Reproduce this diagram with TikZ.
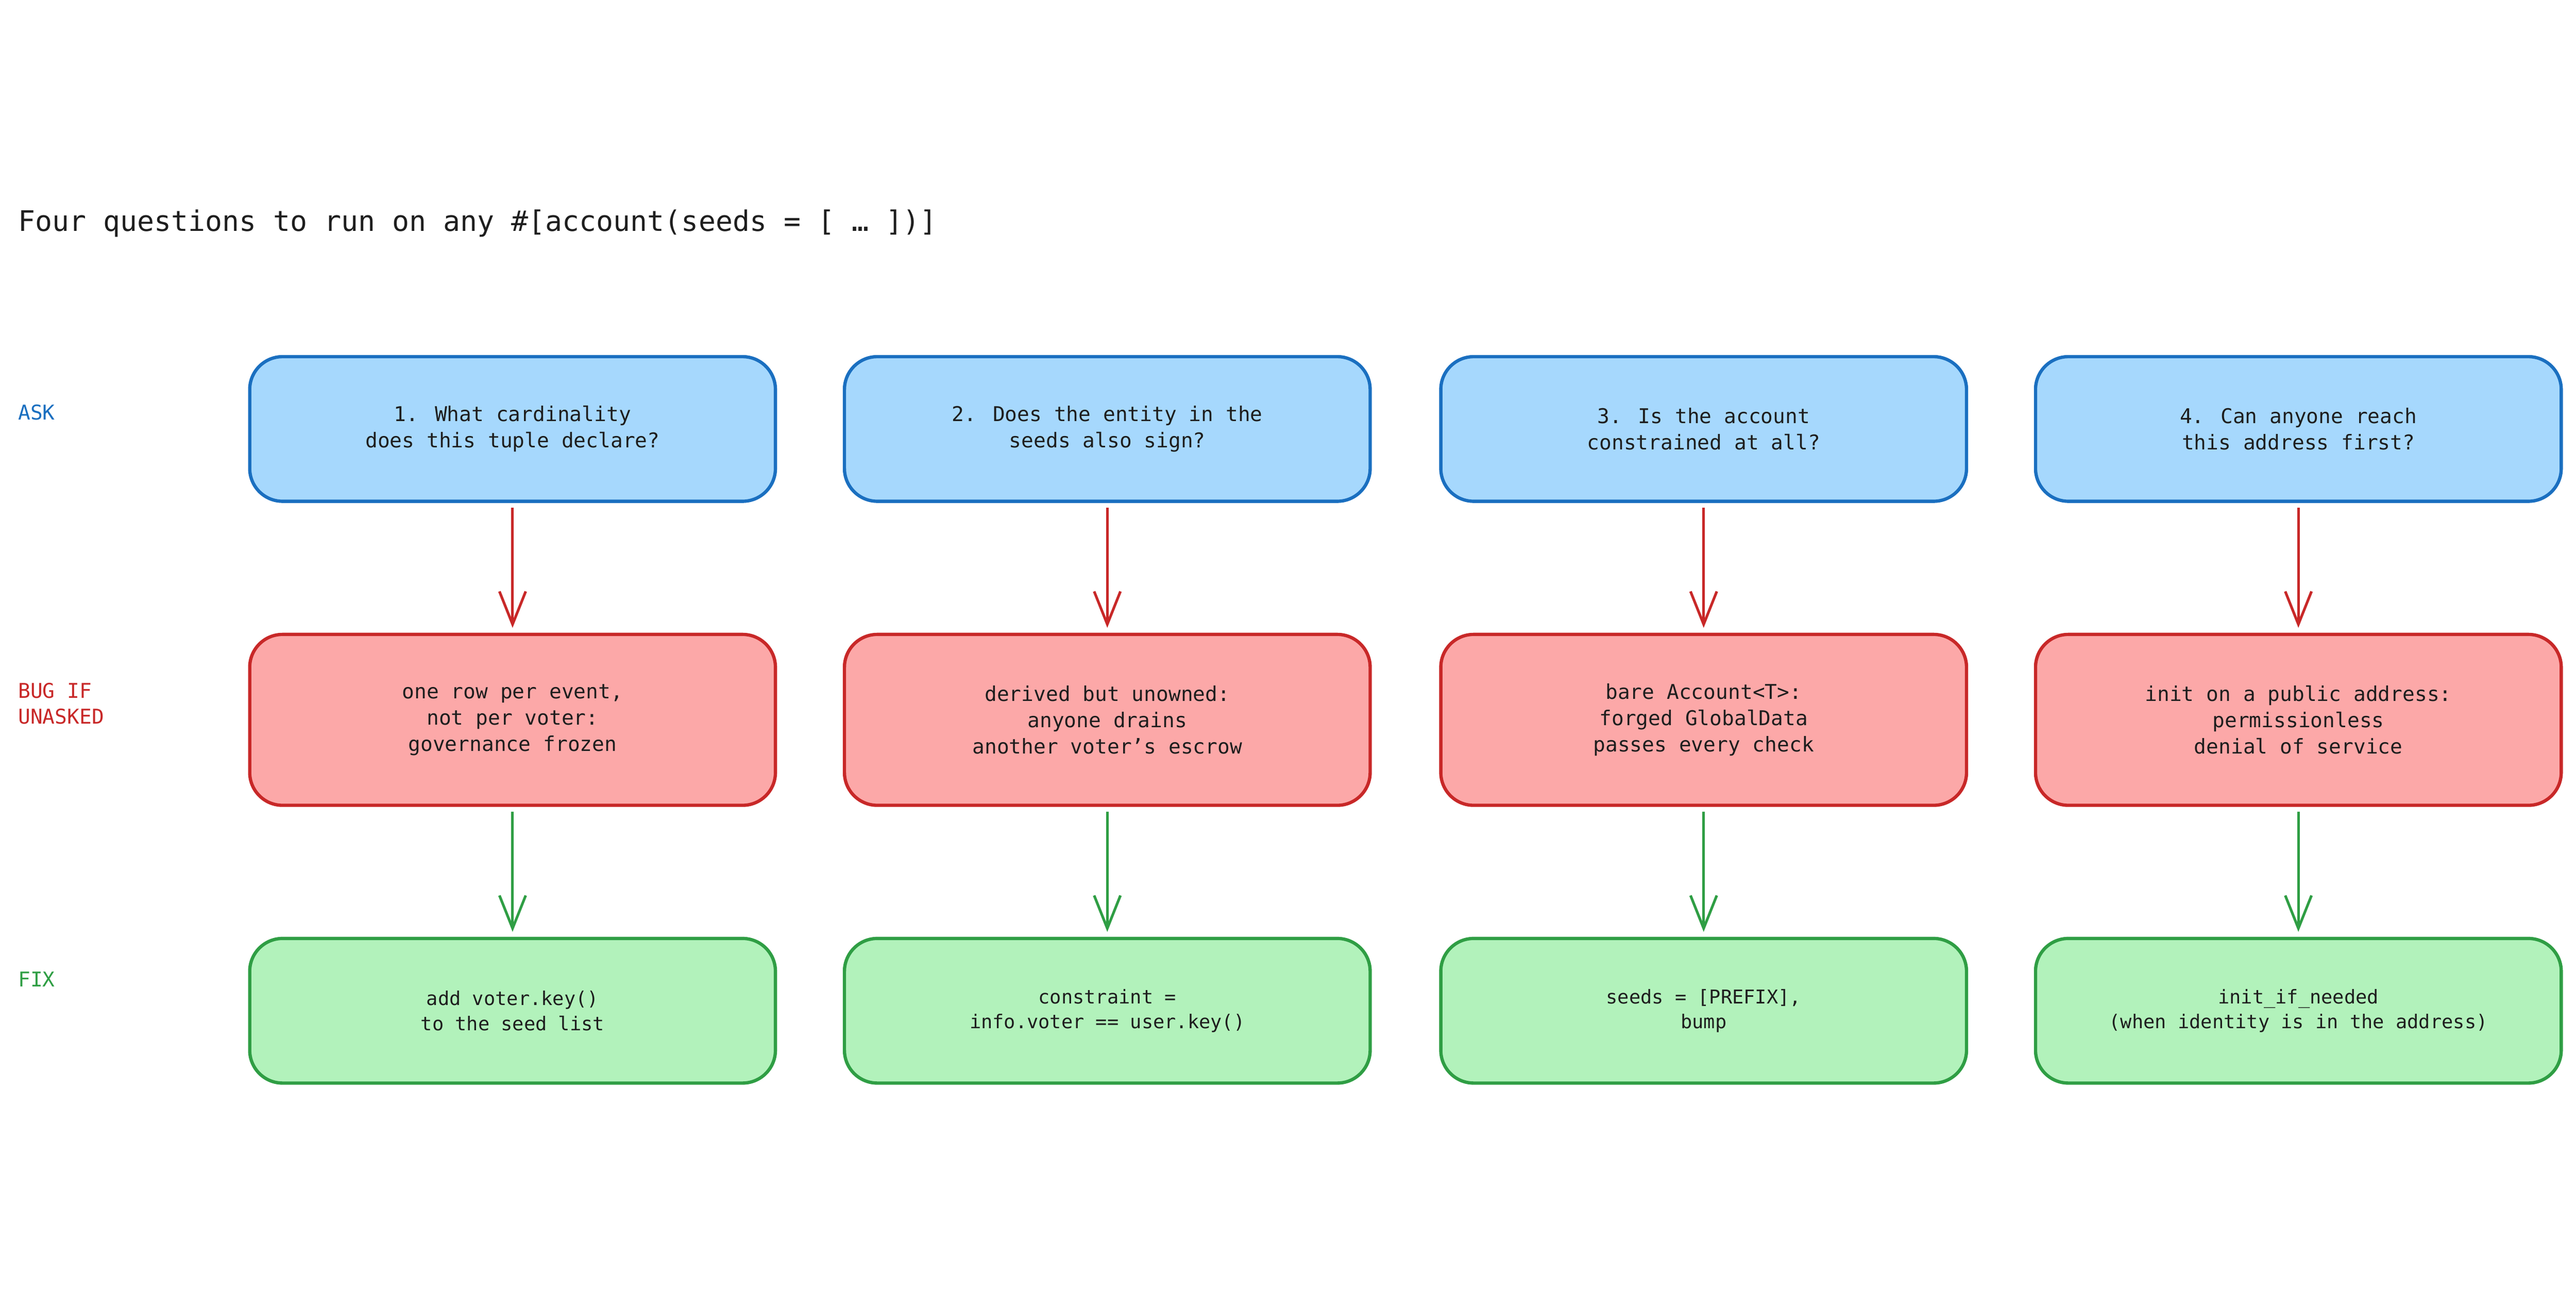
\documentclass[tikz,border=0pt]{standalone}
\usepackage{fontspec}
\setmainfont{DejaVu Sans Mono}
\usetikzlibrary{arrows.meta}
\definecolor{bluef}{HTML}{A6D8FD}\definecolor{blued}{HTML}{1A6FC0}
\definecolor{redf}{HTML}{FCA8A8}\definecolor{redd}{HTML}{C82828}
\definecolor{greenf}{HTML}{B2F2BB}\definecolor{greend}{HTML}{2F9E44}
\definecolor{ink}{HTML}{1E1E1E}
\begin{document}
\begin{tikzpicture}[x=0.5pt,y=-0.5pt,
 box/.style={rounded corners=10pt,line width=1pt,minimum width=160pt,align=center,text=ink,font=\fontsize{6.2}{8}\selectfont},
 ask/.style={box,fill=bluef,draw=blued,minimum height=44pt},
 bug/.style={box,fill=redf,draw=redd,minimum height=52pt},
 fix/.style={box,fill=greenf,draw=greend,minimum height=44pt,font=\fontsize{5.8}{7.6}\selectfont},
 arr/.style={line width=0.8pt,-{Straight Barb[length=10pt,width=8pt,line width=0.8pt]},shorten <=1.5pt,shorten >=1.5pt},
 lab/.style={anchor=west,align=left,font=\fontsize{6.2}{7.8}\selectfont}]
\useasboundingbox (0,0) rectangle (1568,784);
\node[anchor=west,text=ink,font=\fontsize{8.6}{10}\selectfont] (title) at (4,136) {Four questions to run on any \#[account(seeds = [ … ])]};
\node[lab,text=blued] (lask) at (4,251) {ASK};
\node[lab,text=redd] (lbug) at (4,428) {BUG IF\\UNASKED};
\node[lab,text=greend] (lfix) at (4,596) {FIX};
\foreach \i/\x/\a/\b/\c in {
 1/312/{1. What cardinality\\does this tuple declare?}/{one row per event,\\not per voter:\\governance frozen}/{add voter.key()\\to the seed list},
 2/674/{2. Does the entity in the\\seeds also sign?}/{derived but unowned:\\anyone drains\\another voter's escrow}/{constraint =\\info.voter == user.key()},
 3/1037/{3. Is the account\\constrained at all?}/{bare Account<T>:\\forged GlobalData\\passes every check}/{seeds = [PREFIX],\\bump},
 4/1399/{4. Can anyone reach\\this address first?}/{init on a public address:\\permissionless\\denial of service}/{init\_if\_needed\\(when identity is in the address)}}{
 \node[ask] (a\i) at (\x,261) {\a};
 \node[bug] (b\i) at (\x,438) {\b};
 \node[fix] (f\i) at (\x,615) {\c};
 \draw[arr,redd] (a\i) -- (b\i);
 \draw[arr,greend] (b\i) -- (f\i);
}
\end{tikzpicture}
\end{document}
